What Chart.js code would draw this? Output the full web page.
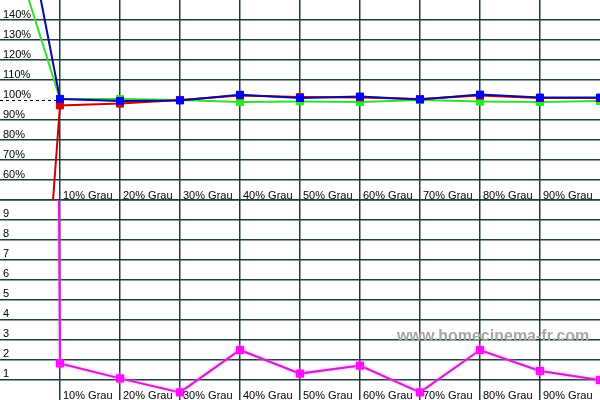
<!DOCTYPE html>
<html>
<head>
<meta charset="utf-8">
<script src="https://cdn.jsdelivr.net/npm/chart.js@4/dist/chart.umd.min.js"></script>
<style>
html,body{margin:0;padding:0;background:#fff;}
#wrap{width:600px;height:400px;}
</style>
</head>
<body>
<div id="wrap"><canvas id="c" width="600" height="400"></canvas></div>
<script>
// ---- data ----
const categories = ['0% Grau','10% Grau','20% Grau','30% Grau','40% Grau','50% Grau','60% Grau','70% Grau','80% Grau','90% Grau','100% Grau'];
const blueValues  = [256, 100.5, 99.5, 99.8, 102.6, 101.0, 101.7, 100.3, 102.7, 101.2, 101.2];
const redValues   = [-310, 97.3, 98.2, 100.0, 102.3, 101.5, 101.3, 100.5, 102.2, 101.0, 101.0];
const greenValues = [196, 100.5, 100.5, 100.0, 99.0, 99.3, 99.0, 100.0, 99.2, 99.0, 99.5];
const deltaEValues = [480, 1.83, 1.08, 0.38, 2.5, 1.32, 1.72, 0.38, 2.5, 1.45, 1.0];
const percentTicks = [60, 70, 80, 90, 100, 110, 120, 130, 140];
const deltaTicks = [1, 2, 3, 4, 5, 6, 7, 8, 9];
const watermark = 'www.homecinema-fr.com';

const GRID = '#1f3d3d';
const hiddenFirst = (v) => [0];

const markerRadius = [0,5,5,5,5,5,5,5,5,5,5];

const textPlugin = {
  id: 'texts',
  beforeDatasetsDraw(chart) {
    const ctx = chart.ctx;
    const x = chart.scales.x, yt = chart.scales.y, yb = chart.scales.yb;
    ctx.save();
    // dashed 100% reference line in the label column
    ctx.strokeStyle = '#000';
    ctx.lineWidth = 1;
    ctx.setLineDash([3, 3]);
    const y100 = Math.round(yt.getPixelForValue(100)) + 0.5;
    ctx.beginPath();
    ctx.moveTo(x.getPixelForValue(0), y100);
    ctx.lineTo(x.getPixelForValue(1), y100);
    ctx.stroke();
    ctx.setLineDash([]);
    // watermark
    ctx.font = 'bold 16px "Liberation Sans", Arial, sans-serif';
    ctx.fillStyle = '#a6a6a6';
    ctx.textBaseline = 'alphabetic';
    ctx.textAlign = 'left';
    ctx.fillText(watermark, 397, yb.getPixelForValue(2.95));
    ctx.restore();
  },
  afterDatasetsDraw(chart) {
    const ctx = chart.ctx;
    const x = chart.scales.x, yt = chart.scales.y, yb = chart.scales.yb;
    ctx.save();
    ctx.font = '11px "Liberation Sans", Arial, sans-serif';
    ctx.fillStyle = '#000';
    ctx.textAlign = 'left';
    ctx.textBaseline = 'alphabetic';
    percentTicks.forEach(v => ctx.fillText(v + '%', 3, yt.getPixelForValue(v) - 2));
    deltaTicks.forEach(v => ctx.fillText(String(v), 3, yb.getPixelForValue(v) - 3));
    for (let i = 1; i <= 9; i++) {
      const px = x.getPixelForValue(i) + 3;
      ctx.fillText(categories[i], px, yt.getPixelForValue(50) - 1);
      ctx.fillText(categories[i], px, yb.getPixelForValue(0) - 1);
    }
    ctx.restore();
  },
  beforeDatasetDraw(chart, args) {
    if (args.index === 3) {
      chart.ctx.save();
      chart.ctx.shadowColor = 'rgba(255,120,255,0.9)';
      chart.ctx.shadowBlur = 3;
    }
  },
  afterDatasetDraw(chart, args) {
    if (args.index === 3) chart.ctx.restore();
  }
};

new Chart(document.getElementById('c'), {
  type: 'line',
  data: {
    labels: categories,
    datasets: [
      { label: 'Blau', data: blueValues, yAxisID: 'y', borderColor: '#0a0aa0', backgroundColor: '#0000ff',
        pointBackgroundColor: '#0000ff', pointBorderColor: '#0000ff', borderWidth: 2, pointStyle: 'rect',
        pointRadius: markerRadius, pointBorderWidth: 1, tension: 0, clip: 0 },
      { label: 'Rot', data: redValues, yAxisID: 'y', borderColor: '#cc0000', backgroundColor: '#e00000',
        pointBackgroundColor: '#e00000', pointBorderColor: '#e00000', borderWidth: 2, pointStyle: 'rect',
        pointRadius: markerRadius, pointBorderWidth: 1, tension: 0, clip: 0 },
      { label: 'Grün', data: greenValues, yAxisID: 'y', borderColor: '#33dd33', backgroundColor: '#22ee22',
        pointBackgroundColor: '#22ee22', pointBorderColor: '#22ee22', borderWidth: 2, pointStyle: 'rect',
        pointRadius: markerRadius, pointBorderWidth: 1, tension: 0, clip: 0 },
      { label: 'Delta E', data: deltaEValues, yAxisID: 'yb', borderColor: '#cc22cc', backgroundColor: '#ff00ff',
        pointBackgroundColor: '#ff00ff', pointBorderColor: '#ff00ff', borderWidth: 2, pointStyle: 'rect',
        pointRadius: markerRadius, pointBorderWidth: 1, tension: 0, clip: 0 }
    ]
  },
  options: {
    responsive: false,
    animation: false,
    events: [],
    layout: { padding: 0, autoPadding: false },
    plugins: { legend: { display: false }, tooltip: { enabled: false } },
    scales: {
      x: {
        type: 'category', offset: false, position: 'bottom',
        grid: { drawTicks: false, lineWidth: 1.5, color: (c) => (c.index === 0 || c.index === categories.length - 1) ? 'rgba(0,0,0,0)' : GRID },
        border: { display: false },
        ticks: { display: false }
      },
      yb: {
        type: 'linear', min: 0, max: 10, position: 'left', stack: 'v', stackWeight: 1,
        grid: { drawTicks: false, lineWidth: 1.5, color: (c) => (c.tick && (c.tick.value === 0)) ? 'rgba(0,0,0,0)' : GRID },
        border: { display: false },
        ticks: { display: false, stepSize: 1 }
      },
      y: {
        type: 'linear', min: 50, max: 150, position: 'left', stack: 'v', stackWeight: 1,
        grid: { drawTicks: false, lineWidth: 1.5, color: (c) => (c.tick && (c.tick.value === 150 || c.tick.value === 100)) ? 'rgba(0,0,0,0)' : GRID },
        border: { display: false },
        ticks: { display: false, stepSize: 10 }
      }
    }
  },
  plugins: [textPlugin]
});
</script>
</body>
</html>
